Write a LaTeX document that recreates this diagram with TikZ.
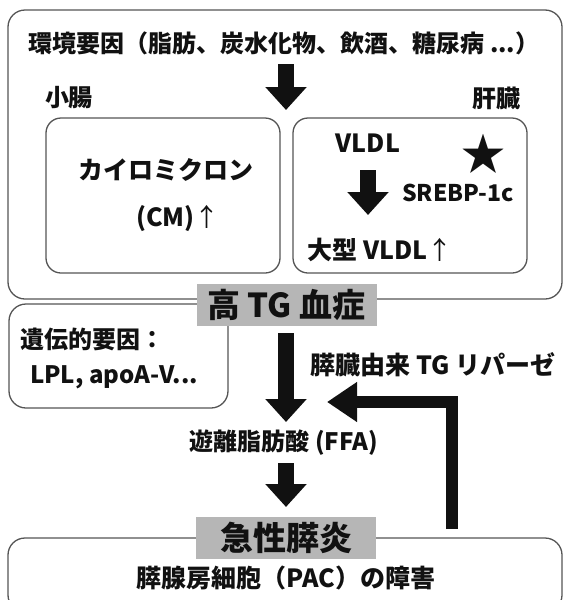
\documentclass[tikz,border=0pt]{standalone}
\usepackage{fontspec}
\setmainfont{Noto Sans CJK JP}
\usetikzlibrary{arrows.meta}
\definecolor{bordercol}{HTML}{555555}
\definecolor{graycol}{HTML}{B6B6B6}
\definecolor{inkcol}{HTML}{111111}
\newcommand{\fs}[1]{\fontsize{#1}{#1}\selectfont\bfseries}
\newcommand{\uparr}{{\mdseries ↑}}
\tikzset{
  roundbox/.style={draw=bordercol, line width=1.3pt, rounded corners=17pt},
  innerbox/.style={draw=bordercol, line width=1.3pt, rounded corners=15pt},
  lbl/.style={inner sep=0pt, text=inkcol, font=\fs{#1}},
  grayhead/.style={fill=graycol, inner sep=0pt, minimum width=180pt, minimum height=42pt, text=inkcol, font=\fs{33}},
  blockarrow/.style={draw=inkcol, line width=16pt, -{Triangle[width=40pt,length=23pt]}},
  fbarrow/.style={draw=inkcol, line width=12pt, miter limit=10, -{Triangle[width=38pt,length=30pt]}}
}
\begin{document}
\begin{tikzpicture}[x=1pt,y=-1pt]
\useasboundingbox (0,0) rectangle (564,600);
\clip (0,0) rectangle (564,600);
% frames
\draw[roundbox] (8,10) rectangle (562,299);
\draw[innerbox] (46,118) rectangle (280,273);
\draw[innerbox] (293,118) rectangle (527,273);
\draw[roundbox] (9,304) rectangle (228,408);
\draw[roundbox] (8,538) rectangle (562,612);
% top texts
\node[lbl=24] (env) at (284,43) {環境要因（脂肪、炭水化物、飲酒、糖尿病 ...）};
\node[lbl=24] (small) at (69,98) {小腸};
\node[lbl=24] (liver) at (496,98) {肝臓};
\coordinate (a1s) at (286,64);
\coordinate (a1e) at (286,110);
\draw[blockarrow] (a1s) -- (a1e);
% left inner
\node[lbl=25] (cmj) at (166,170) {カイロミクロン};
\node[lbl=25] (cm) at (178,218) {(CM)\uparr};
% right inner
\node[lbl=25] (vldl) at (368,143) {VLDL};
\node[lbl=44] (star) at (483,154) {★};
\node[lbl=23] (srebp) at (458,193) {SREBP-1c};
\node[lbl=25] (bigvldl) at (380,250) {大型 VLDL\uparr};
\coordinate (a2s) at (368,170);
\coordinate (a2e) at (368,215);
\draw[blockarrow] (a2s) -- (a2e);
% hyper TG
\node[grayhead] (htg) at (286.5,304.5) {高 TG 血症};
% genetic
\node[lbl=24, anchor=west] (gen1) at (20,339) {遺伝的要因：};
\node[lbl=24] (gen2) at (114,377) {LPL, apoA-V...};
% middle
\coordinate (a3s) at (286,333);
\coordinate (a3e) at (286,422);
\draw[blockarrow] (a3s) -- (a3e);
\node[lbl=25] (lipase) at (433,365) {膵臓由来 TG リパーゼ};
\node[lbl=24] (ffa) at (284,443) {遊離脂肪酸 (FFA)};
\coordinate (a4s) at (286,463);
\coordinate (a4e) at (286,507);
\draw[blockarrow] (a4s) -- (a4e);
% acute pancreatitis
\node[grayhead] (ap) at (286,537.5) {急性膵炎};
\node[lbl=25] (pac) at (286,578) {膵腺房細胞（PAC）の障害};
% feedback arrow
\coordinate (fbs) at (452,529);
\coordinate (fbc) at (452,402);
\coordinate (fbe) at (327,402);
\draw[fbarrow] (fbs) -- (fbc) -- (fbe);
\end{tikzpicture}
\end{document}
